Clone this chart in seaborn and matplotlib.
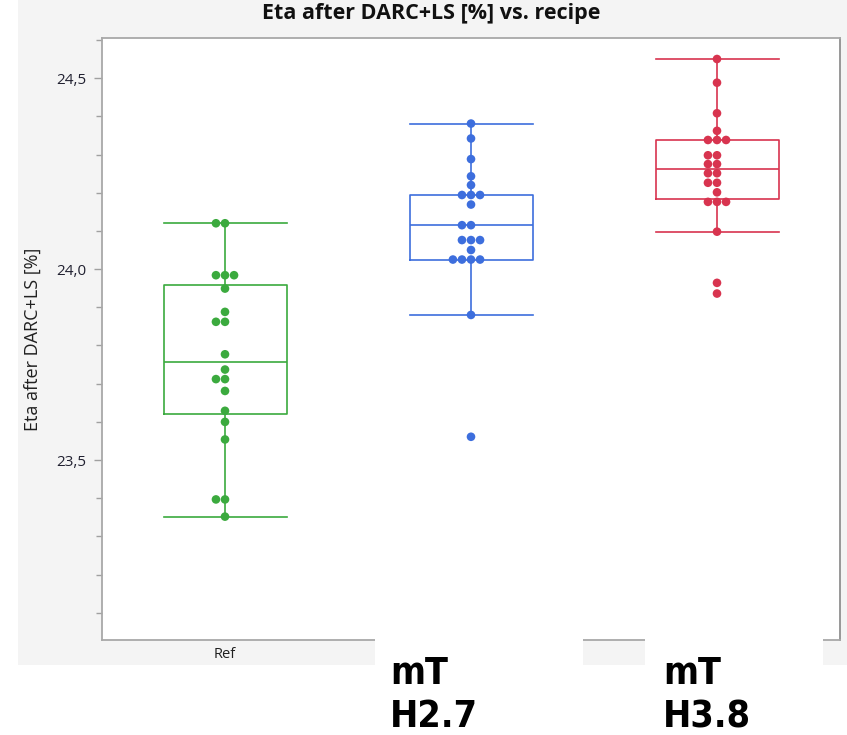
import matplotlib
matplotlib.use("Agg")
import matplotlib.pyplot as plt
import matplotlib.patches as mpatches
from matplotlib.ticker import MultipleLocator, FuncFormatter
import numpy as np
import pandas as pd
import seaborn as sns

# ---- data ----
categories = ["Ref", "mT H2.7", "mT H3.8"]
ref_vals = [24.120, 24.120, 23.984, 23.984, 23.984, 23.949, 23.888, 23.862, 23.862,
            23.777, 23.737, 23.712, 23.712, 23.681, 23.629, 23.600, 23.554, 23.397,
            23.397, 23.352]
h27_vals = [24.381, 24.342, 24.288, 24.243, 24.220, 24.194, 24.194, 24.194, 24.169,
            24.115, 24.115, 24.076, 24.076, 24.076, 24.050, 24.025, 24.025, 24.025,
            24.025, 23.880, 23.561]
h38_vals = [24.550, 24.488, 24.408, 24.362, 24.338, 24.338, 24.338, 24.298, 24.298,
            24.275, 24.275, 24.251, 24.251, 24.226, 24.226, 24.201, 24.176, 24.176,
            24.176, 24.098, 23.964, 23.936]
title = "Eta after DARC+LS [%] vs. recipe"
ylabel = "Eta after DARC+LS [%]"
colors = ["#3BAA3E", "#3D6EDD", "#D8344F"]

df = pd.DataFrame({
    "recipe": [categories[0]] * len(ref_vals) + [categories[1]] * len(h27_vals)
              + [categories[2]] * len(h38_vals),
    "eta": ref_vals + h27_vals + h38_vals,
})

W, H = 847, 735
fig = plt.figure(figsize=(W / 100, H / 100), dpi=100)
fig.patch.set_facecolor("white")

# light grey panel behind everything
fig.add_artist(mpatches.Rectangle((18 / W, 1 - 665 / H), 1 - 18 / W, 665 / H,
                                  transform=fig.transFigure, facecolor="#F4F4F4",
                                  edgecolor="none", zorder=-10))

ax = fig.add_axes([102 / W, 1 - 640 / H, (840 - 102) / W, (640 - 38) / H])
ax.set_facecolor("white")

pal = dict(zip(categories, colors))
sns.boxplot(data=df, x="recipe", y="eta", hue="recipe", order=categories,
            hue_order=categories, palette=pal, fill=False, width=0.5, whis=1.38,
            showfliers=False, linewidth=1.2, capwidths=0.5, legend=False, ax=ax)
sns.swarmplot(data=df, x="recipe", y="eta", hue="recipe", order=categories,
              hue_order=categories, palette=pal, size=6.2, legend=False, ax=ax,
              zorder=3)

ax.set_xlim(-0.5, 2.5)
ax.set_ylim(23.029, 24.605)
ax.yaxis.set_major_locator(MultipleLocator(0.5))
ax.yaxis.set_minor_locator(MultipleLocator(0.1))
ax.yaxis.set_major_formatter(FuncFormatter(lambda v, p: f"{v:.1f}".replace(".", ",")))
ax.tick_params(axis="y", which="major", length=6, width=1, color="#A0A0A0",
               labelsize=11, labelcolor="#202030", pad=5)
ax.tick_params(axis="y", which="minor", length=4, width=1, color="#A0A0A0")
for lab in ax.get_yticklabels():
    lab.set_family("Open Sans")

ax.set_xlabel("")
ax.set_ylabel(ylabel, fontsize=13, family="Open Sans", color="#202020")
ax.yaxis.set_label_coords(-0.082, 0.5)
ax.set_xticks(range(len(categories)))
ax.set_xticklabels(categories, fontsize=10.5, family="Open Sans", color="#202020")
ax.tick_params(axis="x", length=0, pad=5)
for i, lab in enumerate(ax.get_xticklabels()):
    if i > 0:
        lab.set_visible(False)

for side, sp in ax.spines.items():
    sp.set_color("#A8A8A8")
    sp.set_linewidth(1.3)
ax.spines["right"].set_color("#909090")

fig.text(431 / W, 1 - 13 / H, title, ha="center", va="center", fontsize=15.5,
         fontweight="bold", family="Open Sans", color="#111111")

# white patches with big bold labels for the two treatment recipes
big = dict(ha="left", va="baseline", fontsize=27, fontweight="bold",
           family="DejaVu Sans", fontstretch="condensed", color="black", zorder=6)
for x0, x1, tx, cat in [(375, 583, 390, categories[1]), (645, 823, 663, categories[2])]:
    fig.add_artist(mpatches.Rectangle((x0 / W, 0), (x1 - x0) / W, (735 - 637) / H,
                                      transform=fig.transFigure, facecolor="white",
                                      edgecolor="none", zorder=5))
    l1, l2 = cat.split(" ")
    fig.text(tx / W, 1 - 684 / H, l1, **big)
    fig.text(tx / W, 1 - 727 / H, l2, **big)

fig.savefig("out.png", dpi=100, facecolor=fig.get_facecolor())
